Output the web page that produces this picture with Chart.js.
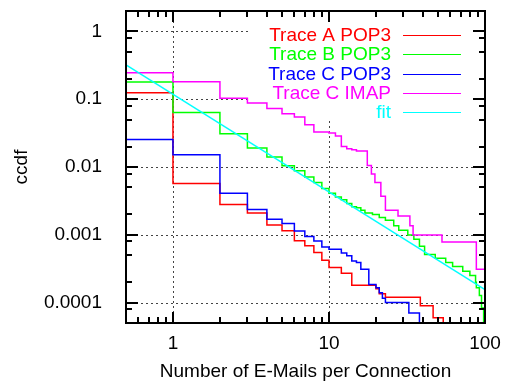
<!DOCTYPE html>
<html>
<head>
<meta charset="utf-8">
<script src="https://cdn.jsdelivr.net/npm/chart.js@4"></script>
<style>
  html, body { margin: 0; padding: 0; background: #fff; }
  canvas { display: block; }
</style>
</head>
<body>
<canvas id="ccdfChart" width="507" height="383"></canvas>
<script>
// values (x = e-mails per connection, y = ccdf)
const traceAX = [0.5, 1, 2, 3, 4, 5, 6, 7, 8, 9, 10, 12, 14, 20, 21, 23, 38.5, 46.5, 54];
const traceAY = [0.124, 0.0057, 0.0028, 0.0021, 0.0014, 0.00115, 0.00082, 0.00069, 0.00055, 0.00042,
  0.00033, 0.00027, 0.00018, 0.00016, 0.000135, 0.00012, 0.00009, 0.00006, 1e-6];

const traceBX = [0.5, 1, 2, 3, 4, 5, 6, 7, 8, 9, 10, 11, 12, 13, 14, 15, 16, 17, 19, 21, 23, 26, 28,
  32, 35, 38, 41, 48, 56, 62, 72, 80, 87, 88, 92, 95, 98];
const traceBY = [0.18, 0.0635, 0.031, 0.019, 0.014, 0.0104, 0.0088, 0.0071, 0.0059, 0.0048, 0.0041,
  0.0036, 0.0033, 0.0029, 0.0026, 0.0025, 0.0023, 0.0021, 0.002, 0.0018, 0.00164, 0.00136, 0.00117,
  0.00099, 0.00086, 0.00068, 0.00051, 0.00045, 0.00039, 0.00034, 0.00029, 0.00025, 0.0002, 0.000165,
  0.000127, 0.000083, 1e-6];

const traceCX = [0.5, 1, 2, 3, 4, 5, 6, 7, 8, 9, 10, 12, 13, 14, 15, 16, 18, 20, 21, 22, 23, 32.5, 38];
const traceCY = [0.0255, 0.0151, 0.0041, 0.00237, 0.0017, 0.00147, 0.00114, 0.00094, 0.00081, 0.00066,
  0.00061, 0.00054, 0.00049, 0.00041, 0.00039, 0.00031, 0.000185, 0.000165, 0.00014, 0.000116, 0.0001,
  0.00007, 1e-6];

const imapX = [0.5, 1, 2, 3, 4, 5, 6, 7, 8, 10, 11, 12, 13, 14, 15, 17.6, 18.7, 19.7, 21.5, 23, 27.7,
  33, 34.6, 53, 88, 100];
const imapY = [0.246, 0.181, 0.103, 0.088, 0.073, 0.061, 0.0548, 0.0421, 0.0328, 0.0317, 0.0287, 0.0201,
  0.0186, 0.018, 0.0172, 0.0105, 0.0079, 0.0059, 0.0037, 0.0023, 0.0019, 0.00136, 0.00099, 0.00078,
  0.00031, 0.00031];

const fitX = [0.5, 100];
const fitY = [0.32, 0.000155];

const seriesNames = ["Trace A POP3", "Trace B POP3", "Trace C POP3", "Trace C IMAP", "fit"];
const seriesColors = ["#ff0000", "#00ff00", "#0000ff", "#ff00ff", "#00ffff"];

const xTickValues = [1, 10, 100];
const xTickLabels = ["1", "10", "100"];
const yTickValues = [1, 0.1, 0.01, 0.001, 0.0001];
const yTickLabels = ["1", "0.1", "0.01", "0.001", "0.0001"];

const FONT = "'Liberation Sans', Arial, Helvetica, sans-serif";

const toPoints = (xs, ys) => xs.map((v, i) => ({ x: v, y: ys[i] }));

const showErr = (ctx, where, e) => {
  ctx.fillStyle = "#f00";
  ctx.font = "12px sans-serif";
  ctx.fillText(where + ": " + e.message, 140, 60);
};

// dotted grid under the data, key box blanks it
const gnuGrid = {
  id: "gnuGrid",
  beforeDatasetsDraw(chart) {
    const { ctx, chartArea: a, scales: { x, y } } = chart;
    ctx.save();
    try {
      ctx.strokeStyle = "#444";
      ctx.lineWidth = 1;
      ctx.setLineDash([2, 3]);
      ctx.beginPath();
      [1, 10].forEach((v) => {
        const px = Math.round(x.getPixelForValue(v)) + 0.5;
        ctx.moveTo(px, a.top);
        ctx.lineTo(px, a.bottom);
      });
      yTickValues.forEach((v) => {
        const py = Math.round(y.getPixelForValue(v)) + 0.5;
        ctx.moveTo(a.left, py);
        ctx.lineTo(a.right, py);
      });
      ctx.stroke();
      ctx.setLineDash([]);
      ctx.fillStyle = "#fff";
      ctx.fillRect(251, a.top + 2, a.right - 253, 121 - a.top - 2);
    } catch (e) { showErr(ctx, "grid", e); }
    ctx.restore();
  },
};

// frame with inward ticks on all four sides, then the key
const gnuFrame = {
  id: "gnuFrame",
  afterDraw(chart) {
    const { ctx, chartArea: a, scales: { x, y } } = chart;
    ctx.save();
    try {
      ctx.strokeStyle = "#000";
      ctx.lineWidth = 2;
      ctx.strokeRect(a.left, a.top, a.right - a.left, a.bottom - a.top);
      ctx.beginPath();
      const minorX = [0.6, 0.7, 0.8, 0.9, 2, 3, 4, 5, 6, 7, 8, 9, 20, 30, 40, 50, 60, 70, 80, 90];
      const minorY = [0.8, 0.5, 0.2, 0.08, 0.05, 0.02, 0.008, 0.005, 0.002, 0.0008, 0.0005, 0.0002, 0.00008];
      const marks = [];
      minorX.forEach((v) => marks.push(["x", x.getPixelForValue(v), 6]));
      xTickValues.forEach((v) => marks.push(["x", x.getPixelForValue(v), 11]));
      minorY.forEach((v) => marks.push(["y", y.getPixelForValue(v), 6]));
      yTickValues.forEach((v) => marks.push(["y", y.getPixelForValue(v), 12]));
      marks.forEach(([axis, p, len]) => {
        p = Math.round(p);
        if (axis === "x") {
          ctx.moveTo(p, a.bottom); ctx.lineTo(p, a.bottom - len);
          ctx.moveTo(p, a.top); ctx.lineTo(p, a.top + len);
        } else {
          ctx.moveTo(a.left, p); ctx.lineTo(a.left + len, p);
          ctx.moveTo(a.right, p); ctx.lineTo(a.right - len, p);
        }
      });
      ctx.stroke();

      ctx.font = "19px " + FONT;
      ctx.textAlign = "right";
      ctx.textBaseline = "middle";
      ctx.lineWidth = 1;
      seriesNames.forEach((name, i) => {
        const ry = 35 + i * 19.25;
        ctx.fillStyle = seriesColors[i];
        ctx.fillText(name, 391, ry + 1);
        ctx.strokeStyle = seriesColors[i];
        ctx.beginPath();
        ctx.moveTo(403, Math.round(ry) + 0.5);
        ctx.lineTo(461, Math.round(ry) + 0.5);
        ctx.stroke();
      });
    } catch (e) { showErr(ctx, "frame", e); }
    ctx.restore();
  },
};

const makeSet = (i, xs, ys, stepped) => ({
  label: seriesNames[i],
  data: toPoints(xs, ys),
  borderColor: seriesColors[i],
  borderWidth: 1.5,
  pointRadius: 0,
  fill: false,
  stepped: stepped,
  order: 4 - i,
});

new Chart(document.getElementById("ccdfChart"), {
  type: "line",
  data: {
    datasets: [
      makeSet(0, traceAX, traceAY, "before"),
      makeSet(1, traceBX, traceBY, "before"),
      makeSet(2, traceCX, traceCY, "before"),
      makeSet(3, imapX, imapY, "before"),
      makeSet(4, fitX, fitY, false),
    ],
  },
  options: {
    responsive: false,
    animation: false,
    layout: { padding: { left: 0, right: 22, top: 11, bottom: 0 } },
    plugins: { legend: { display: false }, tooltip: { enabled: false } },
    scales: {
      x: {
        type: "logarithmic",
        min: 0.5,
        max: 100,
        grid: { display: false },
        border: { display: false },
        afterBuildTicks: (s) => { s.ticks = xTickValues.map((v) => ({ value: v })); },
        afterFit: (s) => { s.height = 60; s.paddingLeft = 0; s.paddingRight = 0; },
        ticks: {
          autoSkip: false,
          maxRotation: 0,
          padding: 1,
          color: "#000",
          font: { family: FONT, size: 19 },
          callback: (v, i) => xTickLabels[i],
        },
        title: {
          display: true,
          text: "Number of E-Mails per Connection",
          color: "#000",
          font: { family: FONT, size: 19 },
          padding: { top: 0, bottom: 0 },
        },
      },
      y: {
        type: "logarithmic",
        min: 5e-5,
        max: 2,
        grid: { display: false },
        border: { display: false },
        afterBuildTicks: (s) => { s.ticks = yTickValues.map((v) => ({ value: v })); },
        afterFit: (s) => { s.width = 126; s.paddingTop = 0; s.paddingBottom = 0; },
        ticks: {
          autoSkip: false,
          padding: 16,
          color: "#000",
          font: { family: FONT, size: 19 },
          callback: (v, i) => yTickLabels[i],
        },
        title: {
          display: true,
          text: "ccdf",
          color: "#000",
          font: { family: FONT, size: 19 },
          padding: { top: 10, bottom: 0 },
        },
      },
    },
  },
  plugins: [gnuGrid, gnuFrame],
});
</script>
</body>
</html>
